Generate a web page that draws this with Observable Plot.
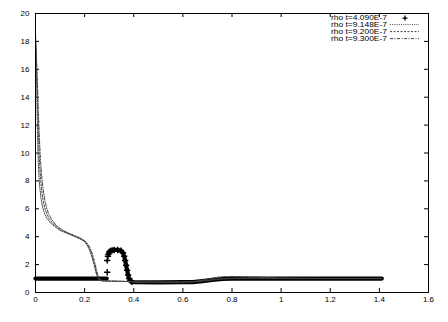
<!DOCTYPE html>
<html>
<head>
<meta charset="utf-8">
<script src="https://cdn.jsdelivr.net/npm/d3@7"></script>
<script src="https://cdn.jsdelivr.net/npm/@observablehq/plot@0.6"></script>
<style>
  html, body { margin: 0; padding: 0; background: #fff; }
  #chart svg { display: block; }
</style>
</head>
<body>
<div id="chart"></div>
<script>
// ---- Tick values ----
const xTicks = [0, 0.2, 0.4, 0.6, 0.8, 1, 1.2, 1.4, 1.6];
const yTicks = [0, 2, 4, 6, 8, 10, 12, 14, 16, 18, 20];

// ---- Legend labels ----
const seriesNames = ["rho t=4.090E-7", "rho t=9.148E-7", "rho t=9.200E-7", "rho t=9.300E-7"];

// ---- rho t=4.090E-7 (plus symbols): dense band part ----
const plusBandX = [0, 0.05, 0.1, 0.15, 0.2, 0.25, 0.29];
const plusBandY = [1.0, 1.0, 1.0, 1.0, 1.0, 1.0, 1.0];
const plusHumpX = [0.297, 0.300, 0.305, 0.312, 0.320, 0.335, 0.348, 0.356, 0.361, 0.365, 0.369, 0.373, 0.377, 0.381, 0.386, 0.392, 0.4, 0.5, 0.6, 0.64, 0.68, 0.72, 0.76, 0.8, 0.9, 1.0, 1.1, 1.2, 1.3, 1.41];
const plusHumpY = [2.75, 2.9, 2.98, 3.02, 3.05, 3.05, 3.0, 2.85, 2.6, 2.3, 1.95, 1.6, 1.25, 1.0, 0.85, 0.77, 0.74, 0.73, 0.74, 0.75, 0.82, 0.9, 0.97, 1.0, 1.0, 1.0, 1.0, 1.0, 1.0, 1.0];
// isolated plus marks on the rising edge
const plusEdgeX = [0.292, 0.292, 0.295];
const plusEdgeY = [1.45, 2.3, 2.6];

// ---- rho t=9.148E-7 ----
const rhoAX = [0, 0.002, 0.004, 0.006, 0.008, 0.010, 0.013, 0.017, 0.022, 0.028, 0.035, 0.045, 0.06, 0.08, 0.1, 0.12, 0.14, 0.16, 0.18, 0.2, 0.21, 0.22, 0.23, 0.24, 0.248, 0.256, 0.265, 0.3, 0.35, 0.39, 0.4, 0.5, 0.6, 0.65, 0.7, 0.75, 0.8, 0.9, 1.0, 1.2, 1.41];
const rhoAY = [18.6, 17.6, 15.8, 13.6, 11.6, 10.0, 8.7, 7.6, 6.8, 6.2, 5.75, 5.35, 5.0, 4.7, 4.45, 4.3, 4.15, 4.0, 3.85, 3.65, 3.4, 3.05, 2.55, 1.9, 1.3, 0.95, 0.85, 0.82, 0.8, 0.78, 0.75, 0.74, 0.75, 0.76, 0.85, 0.95, 1.0, 1.0, 1.0, 1.0, 1.0];

// ---- rho t=9.200E-7 ----
const rhoBX = [0, 0.003, 0.006, 0.009, 0.012, 0.015, 0.019, 0.024, 0.03, 0.037, 0.045, 0.055, 0.07, 0.09, 0.11, 0.13, 0.15, 0.17, 0.19, 0.205, 0.215, 0.225, 0.235, 0.244, 0.252, 0.26, 0.27, 0.3, 0.35, 0.39, 0.4, 0.5, 0.6, 0.65, 0.7, 0.75, 0.8, 0.9, 1.0, 1.2, 1.41];
const rhoBY = [18.3, 17.2, 15.3, 13.2, 11.3, 9.8, 8.6, 7.5, 6.7, 6.1, 5.7, 5.3, 4.95, 4.65, 4.42, 4.27, 4.12, 3.98, 3.8, 3.6, 3.3, 2.9, 2.3, 1.7, 1.15, 0.92, 0.84, 0.82, 0.8, 0.78, 0.75, 0.74, 0.75, 0.77, 0.88, 0.98, 1.02, 1.05, 1.02, 1.0, 1.0];

// ---- rho t=9.300E-7 ----
const rhoCX = [0, 0.004, 0.008, 0.012, 0.016, 0.02, 0.025, 0.031, 0.038, 0.046, 0.055, 0.065, 0.08, 0.1, 0.12, 0.14, 0.16, 0.18, 0.2, 0.212, 0.222, 0.232, 0.242, 0.25, 0.258, 0.266, 0.275, 0.3, 0.35, 0.39, 0.4, 0.5, 0.6, 0.65, 0.7, 0.75, 0.8, 0.9, 1.0, 1.2, 1.41];
const rhoCY = [17.9, 16.8, 14.9, 12.8, 11.0, 9.6, 8.4, 7.4, 6.6, 6.0, 5.6, 5.25, 4.9, 4.6, 4.38, 4.22, 4.08, 3.92, 3.72, 3.5, 3.2, 2.75, 2.1, 1.5, 1.05, 0.9, 0.83, 0.81, 0.8, 0.78, 0.75, 0.74, 0.75, 0.8, 0.95, 1.12, 1.15, 1.1, 1.03, 1.0, 1.0];

const zip = (xs, ys) => xs.map((x, i) => ({x, y: ys[i]}));
const band = zip(plusBandX, plusBandY);
const hump = zip(plusHumpX, plusHumpY);
const edge = zip(plusEdgeX, plusEdgeY);
const rhoA = zip(rhoAX, rhoAY);
const rhoB = zip(rhoBX, rhoBY);
const rhoC = zip(rhoCX, rhoCY);
// the individually visible pluses: the hump itself (before the flat tail)
const humpPluses = hump.filter(d => d.x < 0.4);

const W = 448, H = 322, mL = 35, mR = 20, mT = 13, mB = 30;
const frameW = W - mL - mR, frameH = H - mT - mB, tickLen = 4;
const dashes = ["1,1.2", "2,1.5", "3,1.5,1,1.5"];

const chart = Plot.plot({
  width: W, height: H,
  marginLeft: mL, marginRight: mR, marginTop: mT, marginBottom: mB,
  x: {domain: [0, 1.6]},
  y: {domain: [0, 20]},
  style: {fontFamily: "'Liberation Sans', Arial, sans-serif", fontSize: "8px", background: "#fff", color: "#000", overflow: "visible"},
  marks: [
    Plot.axisX({ticks: xTicks, tickSize: 0, tickPadding: 4, tickFormat: d => String(d), label: null}),
    Plot.axisY({ticks: yTicks, tickSize: 0, tickPadding: 6, label: null}),
    // inward ticks on all four sides
    Plot.tickX(xTicks, {x: d => d, insetTop: frameH - tickLen, stroke: "#000"}),
    Plot.tickX(xTicks, {x: d => d, insetBottom: frameH - tickLen, stroke: "#000"}),
    Plot.tickY(yTicks, {y: d => d, insetRight: frameW - tickLen, stroke: "#000"}),
    Plot.tickY(yTicks, {y: d => d, insetLeft: frameW - tickLen, stroke: "#000"}),
    // rho t=4.090E-7 (dense plus marks)
    Plot.line(band, {x: "x", y: "y", stroke: "#000", strokeWidth: 4.2}),
    Plot.line(hump, {x: "x", y: "y", stroke: "#000", strokeWidth: 4.2}),
    Plot.dot(humpPluses, {x: "x", y: "y", symbol: "plus", r: 2.2, stroke: "#000"}),
    Plot.dot(edge, {x: "x", y: "y", symbol: "plus", r: 2.2, stroke: "#000"}),
    // later times
    Plot.line(rhoA, {x: "x", y: "y", stroke: "#444", strokeWidth: 1, strokeDasharray: dashes[0]}),
    Plot.line(rhoB, {x: "x", y: "y", stroke: "#444", strokeWidth: 1, strokeDasharray: dashes[1]}),
    Plot.line(rhoC, {x: "x", y: "y", stroke: "#444", strokeWidth: 1, strokeDasharray: dashes[2]}),
    Plot.frame({stroke: "#000", strokeWidth: 1})
  ]
});

// ---- key (inside the plot, top right) ----
const svg = d3.select(chart);
const key = svg.append("g").attr("font-family", "'Liberation Sans', Arial, sans-serif").attr("font-size", "6.4px");
const rowY = [17.6, 24.6, 31.6, 38.6];
seriesNames.forEach((name, i) => {
  key.append("text").attr("x", 387).attr("y", rowY[i]).attr("dy", "0.35em")
    .attr("text-anchor", "end").attr("fill", "#000")
    .attr("textLength", 56).attr("lengthAdjust", "spacingAndGlyphs").text(name);
  if (i === 0) {
    key.append("path").attr("d", "M-2.5,0H2.5M0,-2.5V2.5")
      .attr("transform", `translate(405,${rowY[i] + 0.5})`)
      .attr("fill", "none").attr("stroke", "#000").attr("stroke-width", 1.3);
  } else {
    key.append("line").attr("x1", 390).attr("x2", 419).attr("y1", rowY[i]).attr("y2", rowY[i])
      .attr("stroke", "#444").attr("stroke-width", 1).attr("stroke-dasharray", dashes[i - 1]);
  }
});

document.getElementById("chart").appendChild(chart);
</script>
</body>
</html>
